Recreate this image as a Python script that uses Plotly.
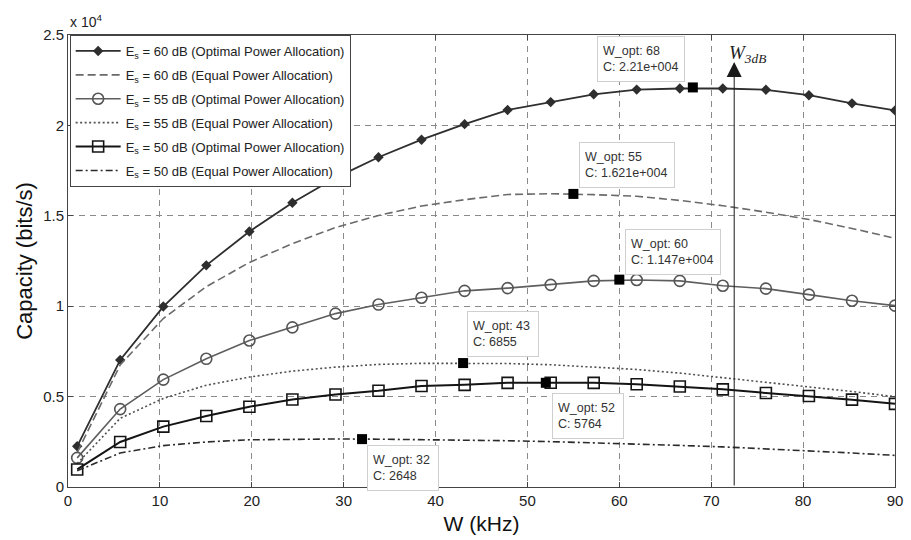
import plotly.graph_objects as go

# Bandwidth grid (kHz) shared by all curves
W = [1.0, 5.68, 10.37, 15.05, 19.74, 24.42, 29.11, 33.79, 38.47, 43.16,
     47.84, 52.53, 57.21, 61.89, 66.58, 71.26, 75.95, 80.63, 85.32, 90.0]

# Capacity (bits/s)
C60_opt = [2250, 7030, 9980, 12260, 14130, 15720, 17100, 18240, 19210, 20070,
           20850, 21290, 21720, 21980, 22040, 22040, 21970, 21670, 21220, 20830]
C60_eq = [1900, 6750, 9320, 11080, 12420, 13460, 14350, 15020, 15540, 15890,
          16180, 16220, 16170, 16080, 15850, 15560, 15200, 14800, 14300, 13760]
C55_opt = [1610, 4310, 5940, 7090, 8100, 8830, 9590, 10090, 10470, 10850,
           11000, 11180, 11400, 11450, 11400, 11130, 10970, 10640, 10300, 10030]
C55_eq = [1300, 3800, 4900, 5630, 6080, 6410, 6630, 6780, 6840, 6855,
          6830, 6760, 6650, 6500, 6300, 6050, 5800, 5550, 5280, 5000]
C50_opt = [970, 2490, 3340, 3930, 4440, 4840, 5120, 5320, 5590, 5650,
           5760, 5770, 5760, 5680, 5560, 5400, 5200, 5030, 4830, 4600]
C50_eq = [900, 1880, 2290, 2490, 2610, 2650, 2655, 2645, 2630, 2600,
          2560, 2510, 2450, 2380, 2300, 2220, 2120, 2000, 1880, 1750]

# Optimum bandwidth of each curve (data tips)
W_opt = [68, 55, 60, 43, 52, 32]
C_opt = [22100, 16210, 11470, 6855, 5764, 2648]
C_opt_text = ["2.21e+004", "1.621e+004", "1.147e+004", "6855", "5764", "2648"]

# 3 dB bandwidth marker
W_3dB = 72.5
W_3dB_top = 23500

legend_names = [
    "E<sub>s</sub> = 60 dB (Optimal Power Allocation)",
    "E<sub>s</sub> = 60 dB (Equal Power Allocation)",
    "E<sub>s</sub> = 55 dB (Optimal Power Allocation)",
    "E<sub>s</sub> = 55 dB (Equal Power Allocation)",
    "E<sub>s</sub> = 50 dB (Optimal Power Allocation)",
    "E<sub>s</sub> = 50 dB (Equal Power Allocation)",
]

y_ticks = [0, 5000, 10000, 15000, 20000, 25000]
y_tick_text = ["0", "0.5", "1", "1.5", "2", "2.5"]
x_ticks = [0, 10, 20, 30, 40, 50, 60, 70, 80, 90]

FONT = "Liberation Sans, Arial, sans-serif"

fig = go.Figure()

styles = [
    (C60_opt, dict(color="#2e2e2e", width=1.8), dict(symbol="diamond", size=8, color="#2e2e2e")),
    (C60_eq, dict(color="#6a6a6a", width=1.6, dash="8px,4px"), None),
    (C55_opt, dict(color="#5e5e5e", width=1.6),
     dict(symbol="circle-open", size=11, color="#555555", line=dict(width=1.6, color="#555555"))),
    (C55_eq, dict(color="#505050", width=1.6, dash="2px,2.5px"), None),
    (C50_opt, dict(color="#141414", width=2.0),
     dict(symbol="square-open", size=11, color="#141414", line=dict(width=1.6, color="#141414"))),
    (C50_eq, dict(color="#2a2a2a", width=1.6, dash="7px,3px,2px,3px"), None),
]

for i, (ys, line, marker) in enumerate(styles):
    fig.add_trace(go.Scatter(
        x=W, y=ys, name=legend_names[i],
        mode="lines+markers" if marker else "lines",
        line=line, marker=marker, legendgroup=f"g{i}",
    ))

# data-tip points
fig.add_trace(go.Scatter(
    x=W_opt, y=C_opt, mode="markers", showlegend=False,
    marker=dict(symbol="square", size=10, color="black"),
))

# data-tip boxes: (xshift, yshift) in pixels from the tip point
tip_offsets = [(-96, 51), (6, 52), (6, 51), (4, 52), (6, -10), (5, -6)]
tip_widths = [76, 84, 84, 60, 60, 60]
for w, c, t, (dx, dy), bw in zip(W_opt, C_opt, C_opt_text, tip_offsets, tip_widths):
    fig.add_annotation(
        x=w, y=c, xref="x", yref="y", showarrow=False,
        text=f"W_opt: {w}<br>C: {t}", align="left", valign="middle",
        xanchor="left", yanchor="top", xshift=dx, yshift=dy,
        width=bw, height=34,
        font=dict(family=FONT, size=12.5, color="#333333"),
        bgcolor="white", bordercolor="#cfcfcf", borderwidth=1, borderpad=5,
    )

# vertical arrow at the 3 dB bandwidth
fig.add_annotation(
    x=W_3dB, y=W_3dB_top, ax=W_3dB, ay=0, xref="x", yref="y", axref="x", ayref="y",
    text="", showarrow=True, arrowhead=2, arrowsize=3, arrowwidth=1,
    arrowcolor="#1a1a1a", standoff=0, startstandoff=0,
)
fig.add_annotation(
    x=W_3dB, y=W_3dB_top, xref="x", yref="y", showarrow=False,
    text="<i>W</i><sub><i>3dB</i></sub>", xanchor="left", yanchor="bottom",
    xshift=-7, yshift=-6,
    font=dict(family="Liberation Serif, Times New Roman, serif", size=19, color="#222222"),
)

# axis exponent
fig.add_annotation(
    x=0, y=1, xref="paper", yref="paper", showarrow=False,
    text="x 10<sup>4</sup>", xanchor="left", yanchor="bottom", xshift=0, yshift=3,
    font=dict(family=FONT, size=14, color="#222222"),
)

axis_common = dict(
    showline=True, linecolor="#444444", linewidth=1, mirror="ticks",
    ticks="inside", ticklen=5, tickcolor="#444444",
    showgrid=True, gridcolor="#8a8a8a", gridwidth=1, griddash="6px,5px",
    zeroline=False, tickfont=dict(family=FONT, size=15, color="#222222"),
)

fig.update_xaxes(
    range=[0, 90], tickvals=x_ticks,
    title=dict(text="W (kHz)", font=dict(family=FONT, size=21, color="#111111"), standoff=8),
    **axis_common,
)
fig.update_yaxes(
    range=[0, 25000], tickvals=y_ticks, ticktext=y_tick_text,
    title=dict(text="Capacity (bits/s)", font=dict(family=FONT, size=22, color="#111111"), standoff=4),
    **axis_common,
)

fig.update_layout(
    width=911, height=540,
    margin=dict(l=68, r=8, t=35, b=50),
    paper_bgcolor="white", plot_bgcolor="white",
    showlegend=True,
    legend=dict(
        x=0.002, y=1, xanchor="left", yanchor="top",
        bgcolor="white", bordercolor="#444444", borderwidth=1,
        font=dict(family=FONT, size=13, color="#222222"),
        tracegroupgap=4, itemwidth=45,
    ),
)

fig.write_html("out.html")
